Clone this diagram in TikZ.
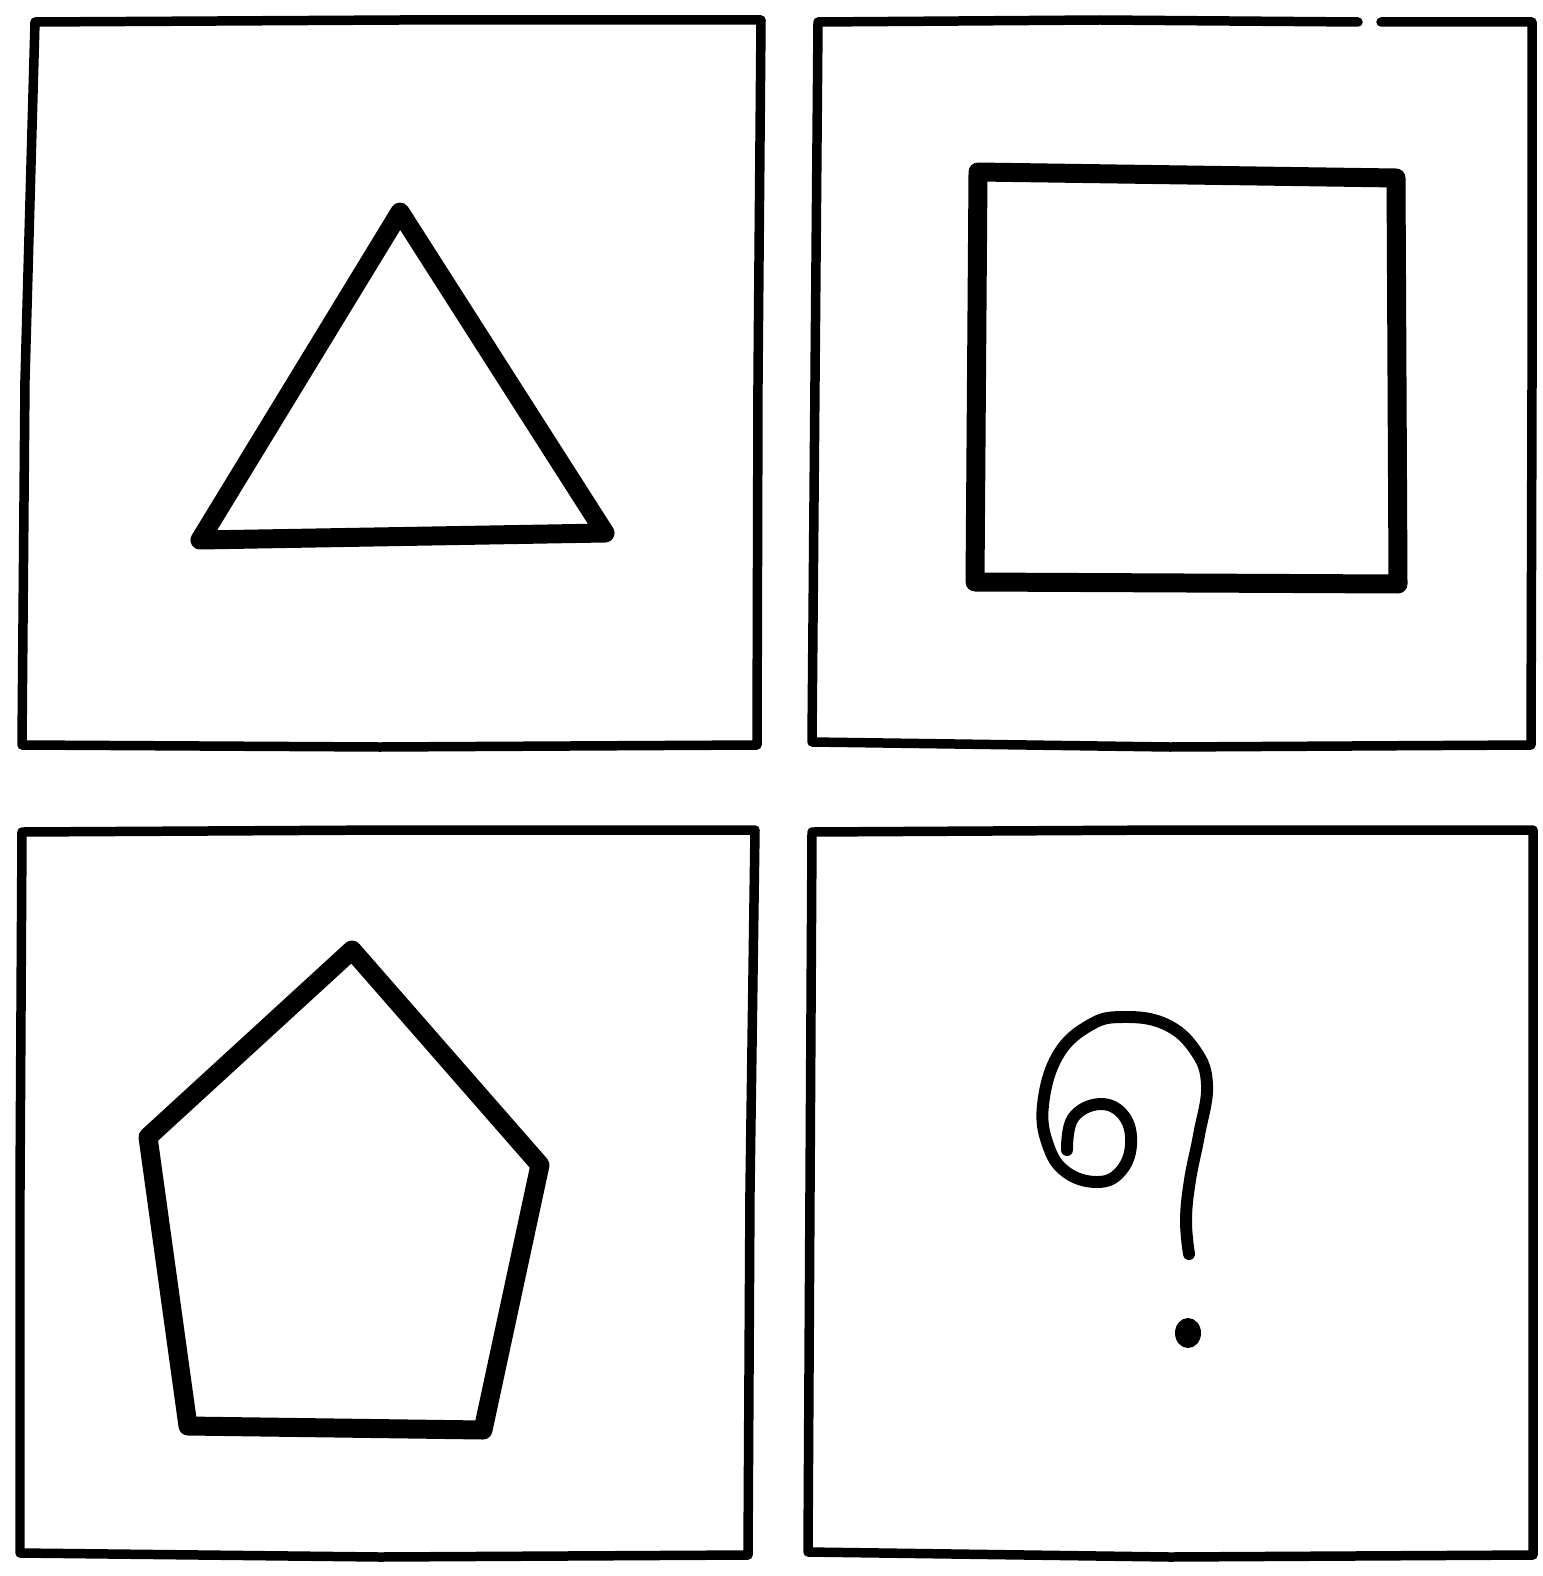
\documentclass[tikz,border=0pt]{standalone}
\begin{document}
\begin{tikzpicture}[x=0.01cm,y=-0.01cm,
  frame/.style={line width=2.7pt,line join=round,line cap=round},
  figline/.style={line width=5.4pt,line join=round,line cap=round},
  qmark/.style={line width=3.4pt,line cap=round,line join=round}]
\useasboundingbox (0,0) rectangle (1542,1576);
% panels
\draw[frame] (35,22) -- (400,20) -- (761,20) -- (758,380) -- (757,745) -- (380,747) -- (22,745) -- (25,380) -- cycle;
\draw[frame] (1381,22) -- (1532,22) -- (1532,380) -- (1531,745) -- (1170,747) -- (812,742) -- (815,380) -- (818,22) -- (1100,20) -- (1358,22);
\draw[frame] (22,832) -- (390,830) -- (755,830) -- (750,1190) -- (748,1555) -- (380,1557) -- (20,1553) -- (20,1190) -- cycle;
\draw[frame] (812,832) -- (1170,830) -- (1533,830) -- (1533,1190) -- (1533,1555) -- (1170,1557) -- (808,1552) -- (810,1190) -- cycle;
% shapes
\draw[figline] (400,212) -- (200,540) -- (605,533) -- cycle;
\draw[figline] (978,172) -- (1396,178) -- (1398,584) -- (975,582) -- cycle;
\draw[figline] (352,950) -- (540,1165) -- (483,1430) -- (188,1426) -- (148,1137) -- cycle;
% question mark
\draw[qmark] plot[smooth,tension=0.7] coordinates {(1067,1150) (1073,1118) (1100,1104) (1124,1116) (1131,1145) (1120,1172) (1097,1182) (1066,1172) (1048,1145) (1043,1105) (1058,1055) (1090,1025) (1123,1017) (1165,1024) (1195,1050) (1207,1085) (1199,1135) (1190,1180) (1186,1220) (1189,1254)};
\fill (1188,1333) ellipse (13 and 15);
\end{tikzpicture}
\end{document}
